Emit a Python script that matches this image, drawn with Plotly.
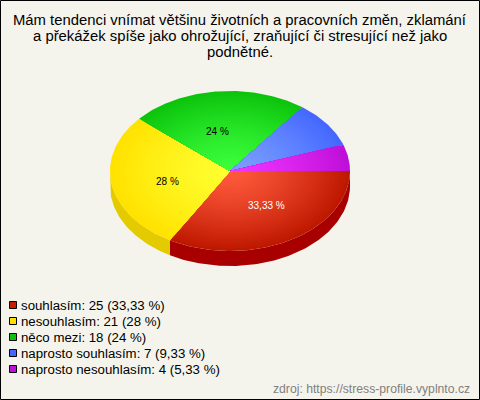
import math
import plotly.graph_objects as go

CATEGORIES = ["souhlasím", "nesouhlasím", "něco mezi", "naprosto souhlasím", "naprosto nesouhlasím"]
VALUES = [25, 21, 18, 7, 4]
PERCENT_LABELS = ["33,33 %", "28 %", "24 %", "9,33 %", "5,33 %"]
TITLE_LINES = [
    "Mám tendenci vnímat většinu životních a pracovních změn, zklamání",
    "a překážek spíše jako ohrožující, zraňující či stresující než jako",
    "podnětné.",
]
SOURCE = "zdroj: https://stress-profile.vyplnto.cz"

CENTER_COLORS = ["#FF5A3C", "#FFFF30", "#3CFF3C", "#7CA0FF", "#F035FF"]
EDGE_COLORS = ["#BE1800", "#FFE200", "#0CC40C", "#4468FF", "#BE10D8"]
SIDE_COLORS = ["#A80000", "#E3CB00", "#0A9A0A", "#3050C0", "#900AA0"]
SWATCH_COLORS = ["#C42000", "#FFE000", "#10C010", "#4468FF", "#C010D8"]
LABEL_COLORS = ["#FFFFFF", "#000000", "#000000", None, None]
LABEL_SHIFTS = [(6, 0), (-3, 4), (-6, 0), (0, 0), (0, 0)]

BG = "#F5F4EC"
CX, CY, RX, RY, DEPTH = 230, 171, 120, 80, 15
LAYERS = 32
FONT = "Liberation Sans"


def rgb(h):
    return [int(h[i:i + 2], 16) for i in (1, 3, 5)]


def mix(a, b, t):
    ca, cb = rgb(a), rgb(b)
    return "rgb(%d,%d,%d)" % tuple(round(x + (y - x) * t) for x, y in zip(ca, cb))


def arc(a0, a1, scale=1.0, dy=0.0):
    n = max(2, int(abs(a1 - a0) / 1.0) + 1)
    pts = [a0 + (a1 - a0) * i / (n - 1) for i in range(n)]
    xs = [CX + RX * scale * math.cos(math.radians(p)) for p in pts]
    ys = [CY + dy + RY * scale * math.sin(math.radians(p)) for p in pts]
    return xs, ys


total = sum(VALUES)
starts, ends, acc = [], [], 0.0
for v in VALUES:
    starts.append(acc)
    acc += v / total * 360
    ends.append(acc)

fig = go.Figure()


def poly(xs, ys, color):
    fig.add_trace(go.Scatter(x=xs, y=ys, mode="lines", fill="toself", fillcolor=color,
                             line=dict(width=0, color=color), hoverinfo="skip", showlegend=False))


# side wall (front half only)
for a0, a1, side in zip(starts, ends, SIDE_COLORS):
    lo, hi = a0, min(a1, 180)
    if lo < hi:
        x1, y1 = arc(lo, hi)
        x2, y2 = arc(hi, lo, dy=DEPTH)
        poly(x1 + x2, y1 + y2, side)

# top face: nested sectors produce the radial gradient
for a0, a1, c0, c1 in zip(starts, ends, CENTER_COLORS, EDGE_COLORS):
    for k in range(LAYERS, 0, -1):
        s = k / LAYERS
        xs, ys = arc(a0, a1, s)
        poly([CX] + xs + [CX], [CY] + ys + [CY], mix(c0, c1, s ** 1.3))

annotations = []


def text(x, y, t, size, color, anchor="center"):
    annotations.append(dict(x=x, y=y, text=t, showarrow=False, xref="x", yref="y",
                            xanchor=anchor, yanchor="middle",
                            font=dict(family=FONT, size=size, color=color)))


for a0, a1, lab, col, (sx, sy) in zip(starts, ends, PERCENT_LABELS, LABEL_COLORS, LABEL_SHIFTS):
    if col:
        mid = math.radians((a0 + a1) / 2)
        text(CX + 0.5 * RX * math.cos(mid) + sx, CY + 0.5 * RY * math.sin(mid) + sy, lab, 10, col)

for i, line in enumerate(TITLE_LINES):
    text(240, 20 + 16 * i, line, 14.85, "#000000")

LEG_X, LEG_Y, LEG_STEP = 13, 305, 16
for i, (c, v, p, sw) in enumerate(zip(CATEGORIES, VALUES, PERCENT_LABELS, SWATCH_COLORS)):
    fig.add_trace(go.Scatter(x=[LEG_X], y=[LEG_Y + LEG_STEP * i], mode="markers", name=c,
                             marker=dict(symbol="square", size=7, color=sw, line=dict(color="#000000", width=1)),
                             hoverinfo="skip", showlegend=False))
    text(19, LEG_Y + LEG_STEP * i, f"{c}: {v} ({p})", 13.25, "#000000", "left")

text(471.5, 389, SOURCE, 12.2, "#808080", "right")

fig.update_layout(
    width=480, height=400, autosize=False,
    margin=dict(l=0, r=0, t=0, b=0),
    paper_bgcolor=BG, plot_bgcolor=BG,
    showlegend=False,
    annotations=annotations,
    xaxis=dict(range=[0, 480], visible=False, fixedrange=True),
    yaxis=dict(range=[400, 0], visible=False, fixedrange=True),
    shapes=[dict(type="rect", xref="x", yref="y", x0=0.5, x1=479.5, y0=0.5, y1=399.5,
                 line=dict(color="#000000", width=1), fillcolor="rgba(0,0,0,0)", layer="above")],
)
fig.write_html("out.html", config=dict(displayModeBar=False),
               post_script="document.body.style.margin='0';document.body.style.overflow='hidden';")
